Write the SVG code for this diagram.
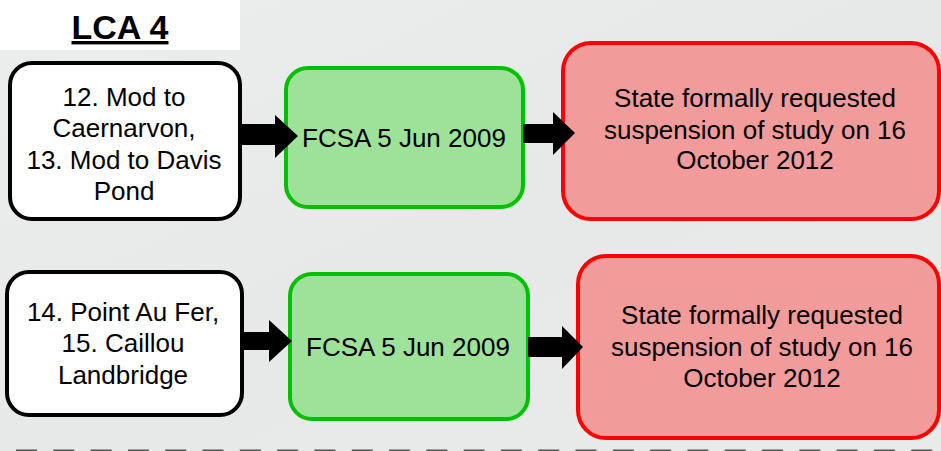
<svg xmlns="http://www.w3.org/2000/svg" width="941" height="451" viewBox="0 0 941 451">
<defs>
<linearGradient id="bg" x1="0" y1="0" x2="1" y2="1">
<stop offset="0" stop-color="#eceeed"/>
<stop offset="0.5" stop-color="#e7e9e8"/>
<stop offset="1" stop-color="#e9ebea"/>
</linearGradient>
<style>
text{font-family:"Liberation Sans",Arial,sans-serif;fill:#000;text-anchor:middle}
.t{font-size:26px}
.white{fill:#fff;stroke:#000;stroke-width:4}
.green{fill:#9ee29a;stroke:#00c000;stroke-width:4}
.red{fill:#f29b9b;stroke:#ff0000;stroke-width:4}
.arrow{fill:#000}
</style>
</defs>
<rect width="941" height="451" fill="url(#bg)"/>
<g id="title">
<rect x="0" y="0" width="240" height="50" fill="#fff"/>
<text x="120" y="39" style="font-size:34px;font-weight:bold" text-decoration="underline">LCA 4</text>
</g>
<g id="n1">
<rect class="white" x="10" y="63" width="230" height="156" rx="22"/>
<text class="t" x="124" y="106">12. Mod to</text>
<text class="t" x="124" y="137">Caernarvon,</text>
<text class="t" x="124" y="169">13. Mod to Davis</text>
<text class="t" x="124" y="200">Pond</text>
</g>
<g id="n2">
<rect class="green" x="286" y="68" width="237" height="139" rx="22"/>
<text class="t" x="404" y="147">FCSA 5 Jun 2009</text>
</g>
<g id="n3">
<rect class="red" x="563" y="43" width="376" height="176" rx="28"/>
<text class="t" x="755" y="107">State formally requested</text>
<text class="t" x="755" y="139">suspension of study on 16</text>
<text class="t" x="755" y="169">October 2012</text>
</g>
<g id="n4">
<rect class="white" x="7" y="272" width="235" height="143" rx="22"/>
<text class="t" x="123" y="321">14. Point Au Fer,</text>
<text class="t" x="123" y="352">15. Caillou</text>
<text class="t" x="123" y="384">Landbridge</text>
</g>
<g id="n5">
<rect class="green" x="290" y="274" width="238" height="145" rx="22"/>
<text class="t" x="408" y="356">FCSA 5 Jun 2009</text>
</g>
<g id="n6">
<rect class="red" x="578" y="256" width="361" height="182" rx="28"/>
<text class="t" x="762" y="324">State formally requested</text>
<text class="t" x="762" y="356">suspension of study on 16</text>
<text class="t" x="762" y="387">October 2012</text>
</g>
<g id="connectors">
<polygon class="arrow" points="240,124 275,124 275,115 298,136 275,158 275,145 240,145"/>
<polygon class="arrow" points="523,124 553,124 553,112 575,133 553,155 553,143 523,143"/>
<polygon class="arrow" points="242,332 269,332 269,320 292,341 269,362 269,350 242,350"/>
<polygon class="arrow" points="528,337 562,337 562,326 583,347 562,369 562,357 528,357"/>
</g>
<line x1="16" y1="451" x2="941" y2="451" stroke="#555" stroke-width="3" stroke-dasharray="21 16.3"/>
</svg>
